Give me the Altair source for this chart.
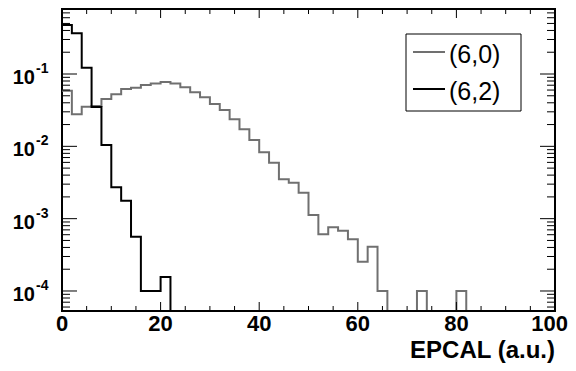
import altair as alt
import pandas as pd

# ---------------- data ----------------
bin_lo = list(range(0, 100, 2))          # lower edges of the 50 bins (width 2)
series = ["(6,0)", "(6,2)"]
colors = ["#707070", "#000000"]

vals_60 = [0.0588, 0.0277, 0.0353, 0.0360, 0.0451, 0.0524, 0.0620, 0.0647, 0.0705, 0.0740,
           0.0775, 0.0740, 0.0655, 0.0558, 0.0477, 0.0385, 0.0318, 0.0236, 0.0172, 0.0122,
           0.00826, 0.00593, 0.00350, 0.00314, 0.00228, 0.00112, 0.000607, 0.000758, 0.000681, 0.000518,
           0.000254, 0.000408, 0.000100, 0, 0, 0, 0.000100, 0, 0, 0,
           0.000100, 0, 0, 0, 0, 0, 0, 0, 0, 0]
vals_62 = [0.477, 0.365, 0.122, 0.0350, 0.0104, 0.00271, 0.00177, 0.000562, 0.000100, 0.000100,
           0.000156, 0, 0, 0, 0, 0, 0, 0, 0, 0,
           0, 0, 0, 0, 0, 0, 0, 0, 0, 0,
           0, 0, 0, 0, 0, 0, 0, 0, 0, 0,
           0, 0, 0, 0, 0, 0, 0, 0, 0, 0]

x_major = [0, 20, 40, 60, 80, 100]
x_labels = ["0", "20", "40", "60", "80", "100"]
x_minor = [v for v in range(0, 101, 5) if v % 20 != 0]
y_major = [1e-1, 1e-2, 1e-3, 1e-4]
y_exp = ["-1", "-2", "-3", "-4"]
x_title = "EPCAL (a.u.)"

YMIN, YMAX = 5.29e-5, 0.792
W, H = 493, 302
FONT = "Liberation Sans"

y_minor = [k * 10.0 ** e for e in range(-5, 0) for k in range(2, 10)]
y_minor = [v for v in y_minor if YMIN <= v <= YMAX]

# ---------------- tables ----------------
rows = []
for name, vals in zip(series, [vals_60, vals_62]):
    xs = bin_lo + [100]
    ys = vals + [vals[-1]]
    for xv, yv in zip(xs, ys):
        rows.append({"series": name, "x": xv, "y": max(yv, YMIN)})
hist = pd.DataFrame(rows)

xscale = alt.Scale(domain=[0, 100], nice=False, zero=False)
yscale = alt.Scale(type="log", domain=[YMIN, YMAX], nice=False)


def X():
    return alt.X("x:Q", scale=xscale, axis=None)


def Y():
    return alt.Y("y:Q", scale=yscale, axis=None)


lines = alt.Chart(hist).mark_line(interpolate="step-after", strokeWidth=2, clip=True).encode(
    x=X(), y=Y(),
    color=alt.Color("series:N", scale=alt.Scale(domain=series, range=colors), legend=None),
)

xmaj = pd.DataFrame({"x": x_major, "t": x_labels})
xmin = pd.DataFrame({"x": x_minor})
ymaj = pd.DataFrame({"y": y_major, "e": y_exp})
ymin = pd.DataFrame({"y": y_minor})

ticks = []
for d, ln in [(xmaj, 9), (xmin, 5)]:
    ticks.append(alt.Chart(d).mark_rule(color="black", strokeWidth=1).encode(
        x=X(), y=alt.value(H), y2=alt.value(H - ln)))
    ticks.append(alt.Chart(d).mark_rule(color="black", strokeWidth=1).encode(
        x=X(), y=alt.value(0), y2=alt.value(ln)))
for d, ln in [(ymaj, 15), (ymin, 8)]:
    ticks.append(alt.Chart(d).mark_rule(color="black", strokeWidth=1).encode(
        y=Y(), x=alt.value(0), x2=alt.value(ln)))
    ticks.append(alt.Chart(d).mark_rule(color="black", strokeWidth=1).encode(
        y=Y(), x=alt.value(W), x2=alt.value(W - ln)))

# x tick labels (last one kept inside the page)
xlab_mid = alt.Chart(xmaj.iloc[:-1]).mark_text(font=FONT, fontWeight="bold", fontSize=22,
                                                align="center", baseline="alphabetic",
                                                color="black").encode(
    x=X(), y=alt.value(H + 20), text="t:N")
xlab_end = alt.Chart(xmaj.iloc[-1:]).mark_text(font=FONT, fontWeight="bold", fontSize=22,
                                                align="right", baseline="alphabetic", dx=13,
                                                color="black").encode(
    x=X(), y=alt.value(H + 20), text="t:N")
xtitle = alt.Chart(pd.DataFrame({"t": [x_title]})).mark_text(
    font=FONT, fontWeight="bold", fontSize=24, align="right", baseline="alphabetic",
    color="black").encode(x=alt.value(W), y=alt.value(H + 47), text="t:N")

ylab_base = alt.Chart(ymaj).mark_text(font=FONT, fontWeight="bold", fontSize=20, align="right",
                                      baseline="middle", dy=4, color="black").encode(
    y=Y(), x=alt.value(-27), text=alt.value("10"))
ylab_exp = alt.Chart(ymaj).mark_text(font=FONT, fontWeight="bold", fontSize=14, align="left",
                                     baseline="middle", dy=-5, color="black").encode(
    y=Y(), x=alt.value(-26), text="e:N")

# legend box
legend_box = alt.Chart(pd.DataFrame({"a": [0]})).mark_rect(fill="white", stroke="black",
                                                           strokeWidth=1).encode(
    x=alt.value(344), x2=alt.value(459), y=alt.value(25), y2=alt.value(102))
legend_layers = [legend_box]
for i, (name, col) in enumerate(zip(series, colors)):
    one = pd.DataFrame({"series": [name]})
    ly = 43 + 37 * i
    legend_layers.append(alt.Chart(one).mark_rule(color=col, strokeWidth=2).encode(
        x=alt.value(351), x2=alt.value(383), y=alt.value(ly)))
    legend_layers.append(alt.Chart(one).mark_text(font=FONT, fontSize=25, align="left",
                                                  baseline="middle", color="black").encode(
        x=alt.value(387), y=alt.value(ly + 3), text="series:N"))

chart = alt.layer(lines, *ticks, xlab_mid, xlab_end, xtitle, ylab_base, ylab_exp,
                  *legend_layers).properties(
    width=W, height=H,
    padding={"left": 54, "top": 1, "right": 13, "bottom": 52},
    autosize=alt.AutoSizeParams(type="none"),
    background="white",
).configure_view(stroke="black", strokeWidth=2)

chart.save("out.html", embed_options={"renderer": "svg", "actions": False})
